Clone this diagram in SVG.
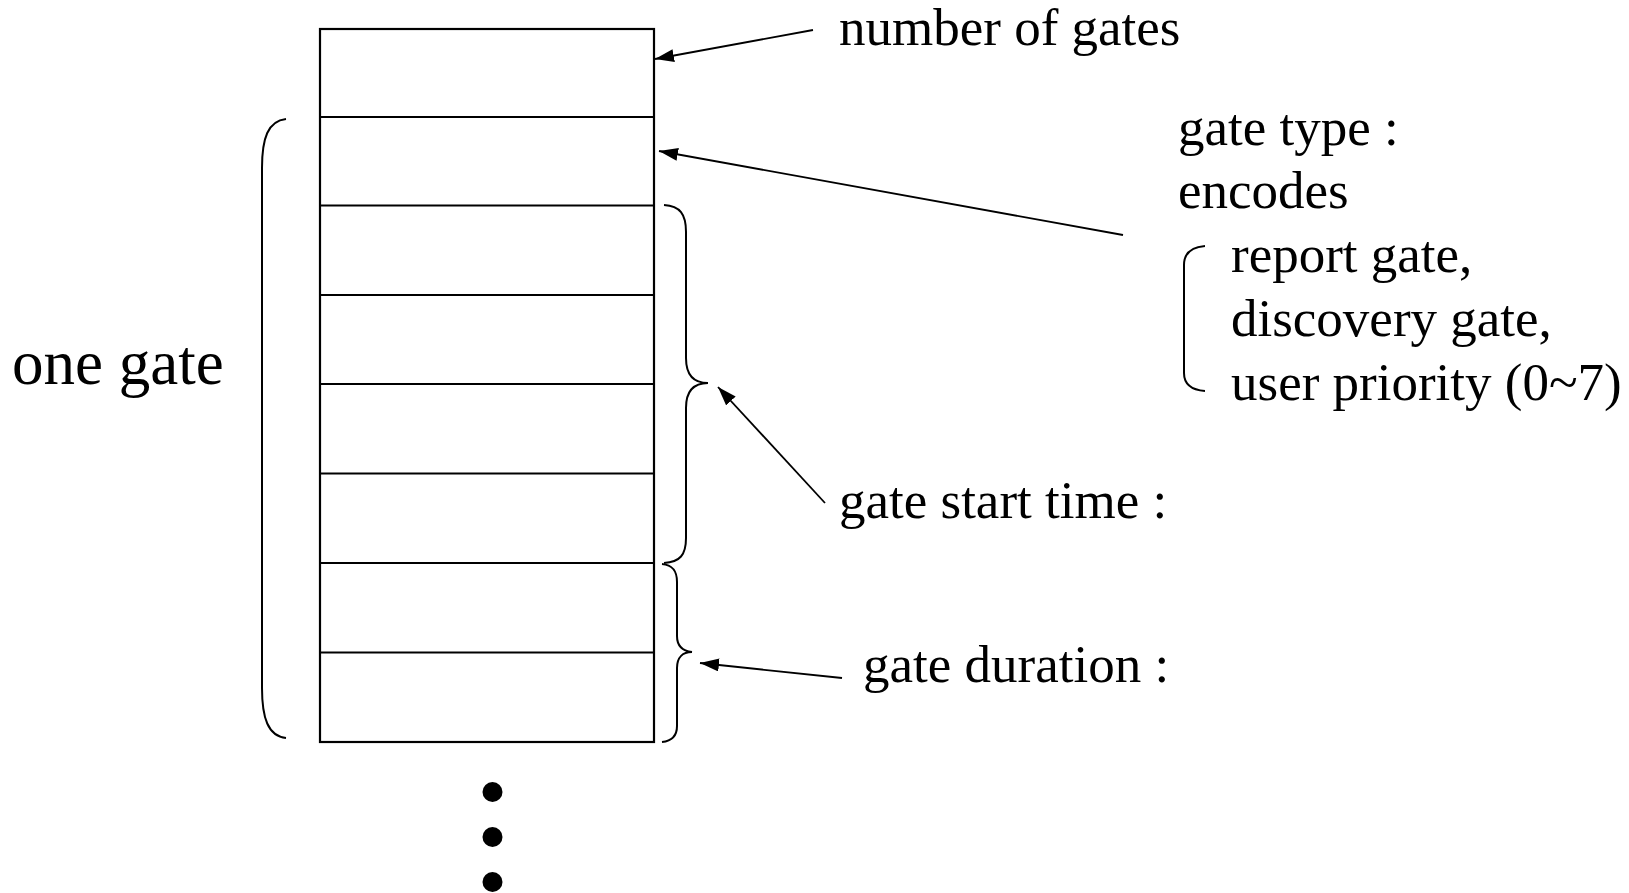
<svg xmlns="http://www.w3.org/2000/svg" width="1629" height="893" viewBox="0 0 1629 893">
<style>
.t{font-family:"Liberation Serif","Times New Roman",serif;font-size:53px;fill:#000}
.big{font-size:63px}
.ln{stroke:#000;stroke-width:2.2;fill:none}
.br{stroke:#000;stroke-width:2;fill:none}
.ar{stroke:#000;stroke-width:1.8;fill:none}
</style>
<defs>
<marker id="ah" markerUnits="userSpaceOnUse" markerWidth="22" markerHeight="14" refX="19" refY="6.5" orient="auto">
<path d="M0,0 L19,6.5 L0,13 Z" fill="#000"/>
</marker>
</defs>
<rect width="1629" height="893" fill="#fff"/>
<g id="stack">
<rect x="320" y="29" width="334" height="713" class="ln"/>
<line x1="320" y1="117" x2="654" y2="117" class="ln" stroke-width="3.2"/>
<line x1="320" y1="205.5" x2="654" y2="205.5" class="ln" stroke-width="2.6"/>
<line x1="320" y1="295" x2="654" y2="295" class="ln"/>
<line x1="320" y1="384" x2="654" y2="384" class="ln"/>
<line x1="320" y1="473.5" x2="654" y2="473.5" class="ln"/>
<line x1="320" y1="563" x2="654" y2="563" class="ln"/>
<line x1="320" y1="652.5" x2="654" y2="652.5" class="ln"/>
</g>
<g id="dots">
<circle cx="492.5" cy="792" r="10"/>
<circle cx="492.5" cy="837" r="10"/>
<circle cx="492.5" cy="882" r="10"/>
</g>
<g id="braces">
<path class="br" d="M286,119 C268,121 262,138 262,168 L262,688 C262,718 268,736 286,738"/>
<path class="br" d="M664,205 C680,206 686,214 686,232 L686,358 C686,375 693,383 708,383 C693,383 686,391 686,408 L686,538 C686,555 680,562 664,563"/>
<path class="br" d="M662,564 C672,565 677,570 677,582 L677,636 C677,646 683,651 692,652 C683,652 677,657 677,668 L677,726 C677,736 672,741 662,742"/>
<path class="br" d="M1205,246 C1192,247 1184,253 1184,265 L1184,373 C1184,385 1192,390 1205,391"/>
</g>
<g id="connectors">
<line class="ar" x1="813" y1="30" x2="655" y2="59" marker-end="url(#ah)"/>
<line class="ar" x1="1123" y1="235" x2="659" y2="151" marker-end="url(#ah)"/>
<line class="ar" x1="825" y1="503" x2="718" y2="387" marker-end="url(#ah)"/>
<line class="ar" x1="842" y1="678" x2="700" y2="663" marker-end="url(#ah)"/>
</g>
<g id="labels">
<text class="t" x="839" y="45">number of gates</text>
<text class="t" x="1178" y="145">gate type :</text>
<text class="t" x="1178" y="208">encodes</text>
<text class="t" x="1231" y="272">report gate,</text>
<text class="t" x="1231" y="336">discovery gate,</text>
<text class="t" x="1231" y="400">user priority (0~7)</text>
<text class="t" x="839" y="518">gate start time :</text>
<text class="t" x="863" y="682">gate duration :</text>
<text class="t big" x="12" y="384">one gate</text>
</g>
</svg>
